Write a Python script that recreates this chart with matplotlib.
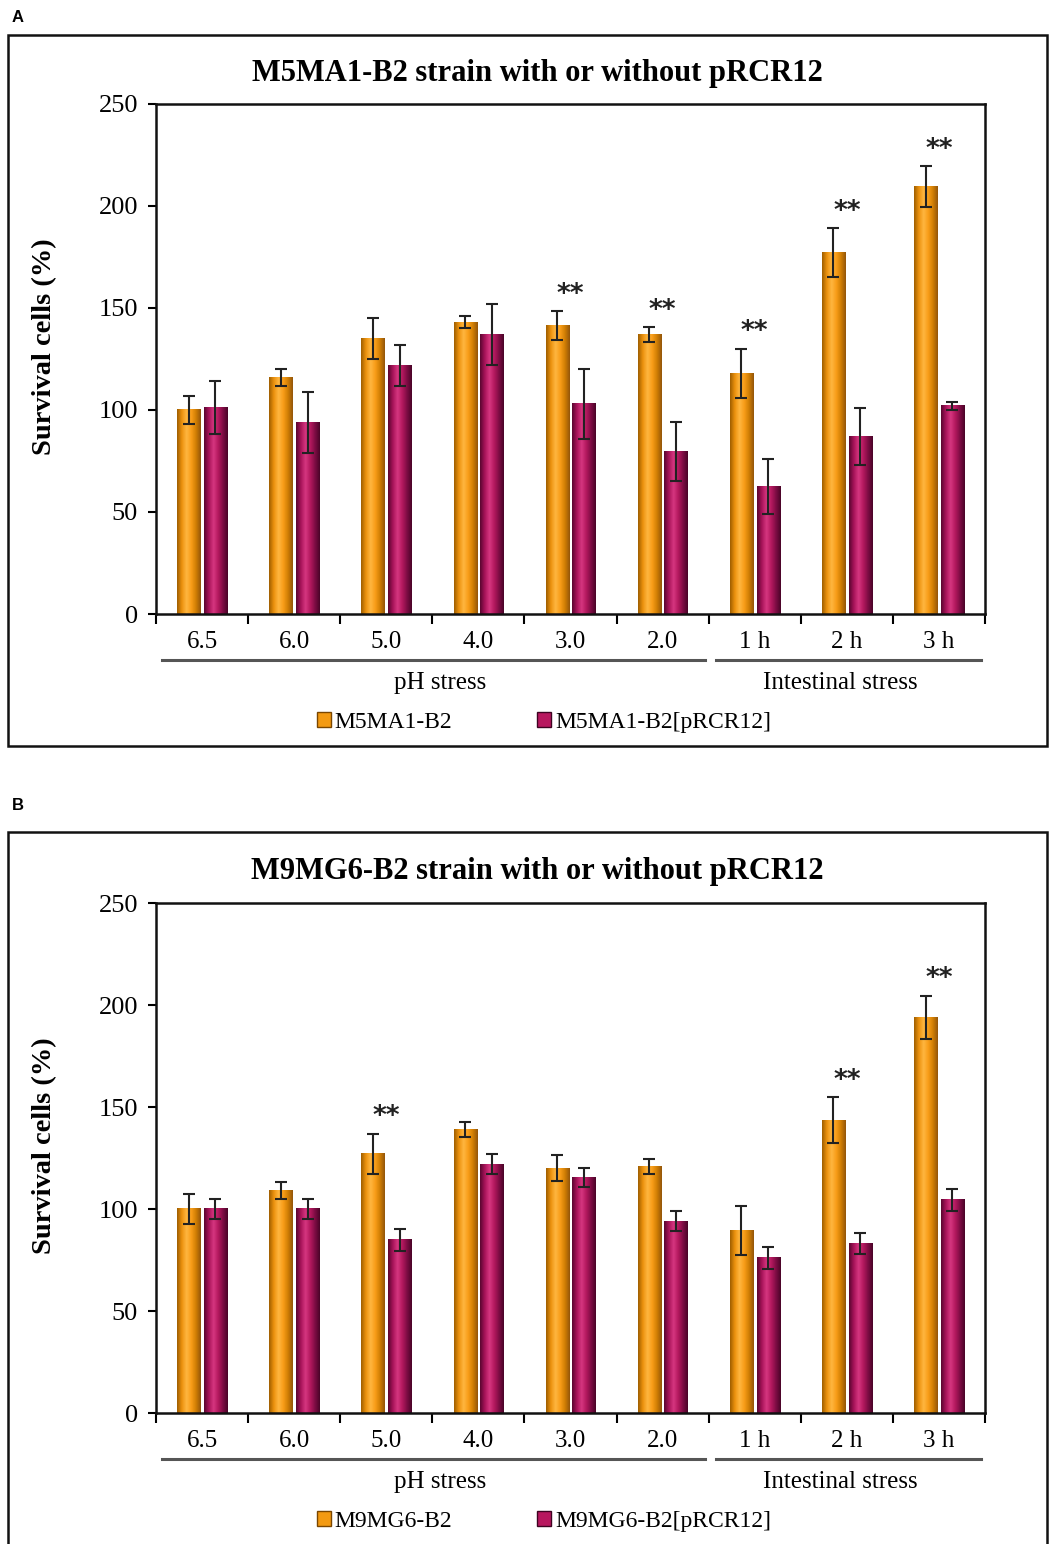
import numpy as np
import matplotlib
matplotlib.use("Agg")
import matplotlib.pyplot as plt
from matplotlib.colors import LinearSegmentedColormap
from matplotlib.patches import Rectangle, Patch

W, H = 1049, 1544

categories = ["6.5", "6.0", "5.0", "4.0", "3.0", "2.0", "1 h", "2 h", "3 h"]
group_names = ["pH stress", "Intestinal stress"]

# panel A: M5MA1-B2
a_title = "M5MA1-B2 strain with or without pRCR12"
a_labels = ["M5MA1-B2", "M5MA1-B2[pRCR12]"]
a_wt = [100, 116, 135, 143, 141.5, 137, 118, 177, 209.5]
a_wt_err = [7, 4, 10, 3, 7, 3.5, 12, 12, 10]
a_pl = [101, 94, 122, 137, 103, 79.5, 62.5, 87, 102]
a_pl_err = [13, 15, 10, 15, 17, 14.5, 13.5, 14, 2]
a_sig = [4, 5, 6, 7, 8]

# panel B: M9MG6-B2
b_title = "M9MG6-B2 strain with or without pRCR12"
b_labels = ["M9MG6-B2", "M9MG6-B2[pRCR12]"]
b_wt = [100, 109, 127, 139, 120, 121, 89.5, 143.5, 194]
b_wt_err = [7.5, 4.3, 10, 3.6, 6.3, 3.6, 12, 11.3, 10.5]
b_pl = [100, 100, 85, 122, 115.5, 94, 76, 83, 104.5]
b_pl_err = [5, 5, 5.4, 4.8, 4.5, 5, 5.4, 5, 5.4]
b_sig = [2, 7, 8]

orange = "#F39A12"
magenta = "#B8175F"
cm_orange = LinearSegmentedColormap.from_list(
    "o", ["#A05E00", "#EC920E", "#FFB640", "#F89D18", "#D07E04", "#94560A"])
cm_magenta = LinearSegmentedColormap.from_list(
    "m", ["#5A0630", "#A8145A", "#D63680", "#B3185E", "#7E0C44", "#4A0428"])

serif = "Liberation Serif"
plt.rcParams["font.family"] = serif


def px(x, y):
    return x / W, 1 - y / H


def shade(ax, bars, cmap):
    grad = np.linspace(0, 1, 64)[np.newaxis, :]
    for b in bars:
        x0, w, h = b.get_x(), b.get_width(), b.get_height()
        ax.imshow(grad, extent=(x0, x0 + w, 0, h), aspect="auto", cmap=cmap,
                  zorder=2.1, interpolation="bilinear")


def panel(top, wt, wt_err, pl, pl_err, sig, title, labels):
    # top = pixel y of the outer frame top
    ax_top = top + 69
    ax_bot = top + 579
    ax = fig.add_axes([156 / W, 1 - ax_bot / H, 829 / W, (ax_bot - ax_top) / H])
    x = np.arange(len(categories))
    bw = 0.25
    off = 0.145
    b1 = ax.bar(x - off, wt, bw, color=orange, edgecolor="#7A4600", linewidth=0.6, zorder=2)
    b2 = ax.bar(x + off, pl, bw, color=magenta, edgecolor="#3E0322", linewidth=0.6, zorder=2)
    shade(ax, b1, cm_orange)
    shade(ax, b2, cm_magenta)
    ax.errorbar(x - off, wt, yerr=wt_err, fmt="none", ecolor="#222222",
                elinewidth=1.5, capsize=4, capthick=1.5, zorder=3)
    ax.errorbar(x + off, pl, yerr=pl_err, fmt="none", ecolor="#222222",
                elinewidth=1.5, capsize=4, capthick=1.5, zorder=3)
    for i in sig:
        ax.text(x[i], wt[i] + wt_err[i] + 8, "**", ha="center", va="center",
                fontsize=19, fontweight="bold", color="#222222", family="DejaVu Sans")

    ax.set_xlim(-0.5, len(categories) - 0.5)
    ax.set_ylim(0, 250)
    ax.set_yticks([0, 50, 100, 150, 200, 250])
    ax.set_xticks(np.arange(-0.5, len(categories)), minor=False)
    ax.set_xticklabels([])
    ax.tick_params(axis="x", direction="out", length=7, width=1.5)
    ax.tick_params(axis="y", direction="out", length=6, width=1.5, labelsize=19, pad=7)
    for s in ax.spines.values():
        s.set_linewidth(1.8)
        s.set_color("#111111")

    # category labels and group lines under the axis
    tr = ax.get_xaxis_transform()
    for i, c in enumerate(categories):
        ax.text(x[i], -0.055, c, transform=tr, ha="center", va="center", fontsize=18)
    ax.plot([-0.43, 5.46], [-0.091, -0.091], transform=tr, clip_on=False,
            color="#555555", lw=2.2)
    ax.plot([5.58, 8.46], [-0.091, -0.091], transform=tr, clip_on=False,
            color="#555555", lw=2.2)
    ax.text(2.58, -0.136, group_names[0], transform=tr, ha="center", va="center", fontsize=18)
    ax.text(6.93, -0.136, group_names[1], transform=tr, ha="center", va="center", fontsize=18)

    handles = [Patch(facecolor=orange, edgecolor="#7A4600"),
               Patch(facecolor=magenta, edgecolor="#3E0322")]
    ax.legend(handles, labels, ncol=2, frameon=False, loc="center",
              bbox_to_anchor=(0.468, -0.213), fontsize=17, handlelength=0.6,
              handleheight=0.6, handletextpad=0.15, columnspacing=3.6)

    fig.text(*px(537, top + 38), title, ha="center", va="center", fontsize=22,
             fontweight="bold")
    fig.text(*px(45, top + 312), "Survival cells (%)", ha="center", va="center",
             rotation=90, fontsize=20.5, fontweight="bold")
    return ax


fig = plt.figure(figsize=(W / 100, H / 100), dpi=100)

panel(35, a_wt, a_wt_err, a_pl, a_pl_err, a_sig, a_title, a_labels)
panel(834, b_wt, b_wt_err, b_pl, b_pl_err, b_sig, b_title, b_labels)

# outer frames
fig.add_artist(Rectangle(px(8, 746), 1039 / W, 711 / H, transform=fig.transFigure,
                         fill=False, lw=1.8, ec="#111111"))
fig.add_artist(Rectangle(px(8, 1560), 1039 / W, 728 / H, transform=fig.transFigure,
                         fill=False, lw=1.8, ec="#111111", clip_on=False))
fig.text(*px(18, 17), "A", ha="center", va="center", fontsize=12, fontweight="bold",
         family="Liberation Sans")
fig.text(*px(18, 805), "B", ha="center", va="center", fontsize=12, fontweight="bold",
         family="Liberation Sans")

fig.savefig("out.png", dpi=100)
